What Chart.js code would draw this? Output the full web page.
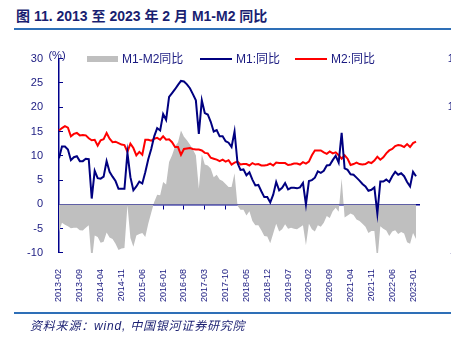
<!DOCTYPE html>
<html><head><meta charset="utf-8">
<script src="https://cdn.jsdelivr.net/npm/chart.js@4/dist/chart.umd.min.js"></script>
<style>
html,body{margin:0;padding:0;width:451px;height:340px;overflow:hidden;background:#fff;}
#title{position:absolute;left:16px;top:7px;font:bold 14px "Liberation Sans","Noto Sans CJK SC",sans-serif;color:#1a1f71;white-space:nowrap;line-height:18px;}
.rule{position:absolute;left:14px;width:437px;height:2px;background:#2e6fb7;}
#wrap{position:absolute;left:0;top:30px;}
.lg{position:absolute;font:12px "Liberation Sans","Noto Sans CJK SC",sans-serif;color:#1a1a80;white-space:nowrap;line-height:14px;top:52px;}
.sw{position:absolute;}
#foot{position:absolute;left:30px;top:319px;font:italic 12px "Liberation Sans","Noto Sans CJK SC",sans-serif;color:#1a1f71;letter-spacing:0.8px;line-height:14px;white-space:nowrap;}
</style></head>
<body>
<div id="title">图 11. 2013 至 2023 年 2 月 M1-M2 同比</div>
<div class="rule" style="top:28px"></div>
<div id="wrap"><canvas id="c" width="460" height="283"></canvas></div>
<div class="sw" style="left:87px;top:56px;width:31px;height:6px;background:#bfbfbf"></div>
<div class="lg" style="left:122px">M1-M2同比</div>
<div class="sw" style="left:200px;top:58px;width:32px;height:2px;background:#000080"></div>
<div class="lg" style="left:236px">M1:同比</div>
<div class="sw" style="left:295px;top:58px;width:32px;height:2px;background:#ff0000"></div>
<div class="lg" style="left:331px">M2:同比</div>
<div class="rule" style="top:312px"></div>
<div id="foot">资料来源：wind, 中国银河证券研究院</div>
<script>
// categories: monthly, 2013-02 .. 2023-02 (plus one empty slot 2023-03 for axis end)
const months = [];
for (let y = 2013; y <= 2023; y++) {
  for (let m = 1; m <= 12; m++) {
    if ((y === 2013 && m < 2) || (y === 2023 && m > 3)) continue;
    months.push(y + '-' + String(m).padStart(2, '0'));
  }
}
const xTickLabels = ['2013-02','2013-09','2014-04','2014-11','2015-06','2016-01','2016-08','2017-03','2017-10','2018-05','2018-12','2019-07','2020-02','2020-09','2021-04','2021-11','2022-06','2023-01'];
const rightTicks = [-3, 2, 7, 12, 17];

const m1 = [
  9.5, 11.9, 11.9, 11.3, 9.1, 9.7, 9.9, 8.9, 8.9, 9.4, 9.3,
  1.2, 6.9, 5.4, 5.3, 5.7, 8.9, 6.7, 5.7, 4.8, 3.2, 3.2, 3.2,
  10.6, 5.6, 2.9, 3.7, 4.7, 4.3, 6.6, 9.3, 11.4, 14.0, 15.7, 15.2,
  18.6, 17.4, 22.1, 22.9, 23.7, 24.6, 25.4, 25.3, 24.7, 23.9, 22.7, 21.4,
  14.5, 21.4, 18.8, 18.5, 17.0, 15.0, 15.3, 14.0, 14.0, 13.0, 12.7, 11.8,
  15.0, 8.5, 7.1, 7.2, 6.0, 6.6, 5.1, 3.9, 4.0, 2.7, 1.5, 1.5,
  0.4, 2.0, 4.6, 2.9, 3.4, 4.4, 3.1, 3.4, 3.4, 3.3, 3.5, 4.4,
  0.0, 4.8, 5.0, 5.5, 6.8, 6.5, 6.9, 8.0, 8.1, 9.1, 10.0, 8.6,
  14.7, 7.4, 7.1, 6.2, 6.1, 5.5, 4.9, 4.2, 3.7, 2.8, 3.0, 3.5,
  -1.9, 4.7, 4.7, 5.1, 4.6, 5.8, 6.7, 6.1, 6.4, 5.8, 4.6, 3.7,
  6.7, 5.8
];
const m2 = [
  15.2, 15.7, 16.1, 15.8, 14.0, 14.5, 14.7, 14.2, 14.3, 14.2, 13.6,
  13.2, 13.3, 12.1, 13.2, 13.4, 14.7, 13.5, 12.8, 12.9, 12.6, 12.3, 12.2,
  10.8, 12.5, 11.6, 10.1, 10.8, 10.2, 13.3, 13.3, 13.1, 13.5, 13.7, 13.3,
  14.0, 13.3, 13.4, 12.8, 11.8, 11.8, 10.2, 11.4, 11.5, 11.6, 11.4, 11.3,
  11.3, 11.1, 10.6, 10.5, 9.6, 9.4, 9.2, 8.9, 9.2, 8.8, 9.1, 8.2,
  8.6, 8.8, 8.2, 8.3, 8.3, 8.0, 8.5, 8.2, 8.3, 8.0, 8.0, 8.1,
  8.4, 8.0, 8.6, 8.5, 8.5, 8.5, 8.1, 8.2, 8.4, 8.4, 8.2, 8.7,
  8.4, 8.8, 10.1, 11.1, 11.1, 11.1, 10.7, 10.4, 10.9, 10.5, 10.7, 10.1,
  9.4, 10.1, 9.4, 8.1, 8.3, 8.6, 8.3, 8.2, 8.3, 8.7, 8.5, 9.0,
  9.8, 9.2, 9.7, 10.5, 11.1, 11.4, 12.0, 12.2, 12.1, 11.8, 12.4, 11.8,
  12.6, 12.9
];
const spread = [
  -5.7, -3.8, -4.2, -4.5, -4.9, -4.8, -4.8, -5.3, -5.4, -4.8, -4.3,
  -12.0, -6.4, -6.7, -7.9, -7.7, -5.8, -6.8, -7.1, -8.1, -9.4, -9.1, -9.0,
  -0.2, -6.9, -8.7, -6.4, -6.1, -5.9, -6.7, -4.0, -1.7, 0.5, 2.0, 1.9,
  4.6, 4.1, 8.7, 10.1, 11.9, 12.8, 15.2, 13.9, 13.2, 12.3, 11.3, 10.1,
  3.2, 10.3, 8.2, 8.0, 7.4, 5.6, 6.1, 5.1, 4.8, 4.2, 3.6, 3.6,
  6.4, -0.3, -1.1, -1.1, -2.3, -1.4, -3.4, -4.3, -4.3, -5.3, -6.5, -6.6,
  -8.0, -6.0, -4.0, -5.6, -5.1, -4.1, -5.0, -4.8, -5.0, -5.1, -4.7, -4.3,
  -8.4, -4.0, -5.1, -5.6, -4.3, -4.6, -3.8, -2.4, -2.8, -1.4, -0.7, -1.5,
  5.3, -2.7, -2.3, -1.9, -2.2, -3.1, -3.4, -4.0, -4.6, -5.9, -5.5, -5.5,
  -11.7, -4.5, -5.0, -5.4, -6.5, -5.6, -5.3, -6.1, -5.7, -6.0, -7.8, -8.1,
  -5.9, -7.1
];

const navy = '#1a1a80';
const axisNavy = '#00008b';
Chart.defaults.font.family = '"Liberation Sans", "Noto Sans CJK SC", sans-serif';

const pctPlugin = {
  id: 'pct',
  afterDraw(chart) {
    const {ctx, chartArea: a} = chart;
    ctx.save();
    ctx.font = '11px "Liberation Sans", sans-serif';
    ctx.fillStyle = navy;
    ctx.textAlign = 'center';
    ctx.textBaseline = 'alphabetic';
    ctx.fillText('(%)', a.left - 2, a.top);
    ctx.restore();
  }
};

const tickVis = (ctx) => xTickLabels.includes(months[ctx.index]) ? axisNavy : 'rgba(0,0,0,0)';

new Chart(document.getElementById('c'), {
  type: 'line',
  data: {
    labels: months,
    datasets: [
      {label: 'M1-M2同比', data: spread, fill: 'origin', backgroundColor: '#bfbfbf', borderWidth: 0, pointRadius: 0, order: 3},
      {label: 'M1:同比', data: m1, borderColor: '#000080', borderWidth: 2, pointRadius: 0, fill: false, order: 1},
      {label: 'M2:同比', data: m2, borderColor: '#ff0000', borderWidth: 2, pointRadius: 0, fill: false, order: 2}
    ]
  },
  options: {
    responsive: false,
    animation: false,
    devicePixelRatio: 1,
    layout: {padding: {left: 16, top: 22, right: 0, bottom: 3}},
    plugins: {legend: {display: false}, tooltip: {enabled: false}},
    scales: {
      x: {
        position: 'bottom',
        grid: {display: false},
        border: {display: false},
        ticks: {
          autoSkip: false, maxRotation: 90, minRotation: 90, padding: 8,
          color: navy, font: {size: 9},
          callback: function (v) { const l = this.getLabelForValue(v); return xTickLabels.includes(l) ? l : ''; }
        },
        afterFit: (s) => { s.paddingLeft = 0; s.paddingRight = 0; }
      },
      x2: {
        type: 'category',
        position: {y: 0},
        z: 1,
        grid: {drawOnChartArea: false, drawTicks: true, tickLength: 4, tickWidth: 1, color: tickVis, tickColor: tickVis},
        border: {display: true, color: axisNavy, width: 1.5},
        ticks: {display: false, autoSkip: false},
        afterFit: (s) => { s.paddingLeft = 0; s.paddingRight = 0; }
      },
      y: {
        min: -10, max: 30, z: 1,
        ticks: {stepSize: 5, color: navy, font: {size: 11}, padding: 20},
        grid: {drawOnChartArea: false, drawTicks: true, tickLength: -4, color: axisNavy},
        border: {display: true, color: axisNavy, width: 1.5},
        afterFit: (s) => { s.width = 43; }
      },
      y2: {
        position: 'right',
        min: -3, max: 17,
        afterBuildTicks: (s) => { s.ticks = rightTicks.map(v => ({value: v})); },
        grid: {display: false},
        border: {display: false},
        ticks: {color: navy, font: {size: 11}, padding: 22, crossAlign: 'far'},
        afterFit: (s) => { s.width = 41; }
      }
    }
  },
  plugins: [pctPlugin]
});
</script>
</body></html>
